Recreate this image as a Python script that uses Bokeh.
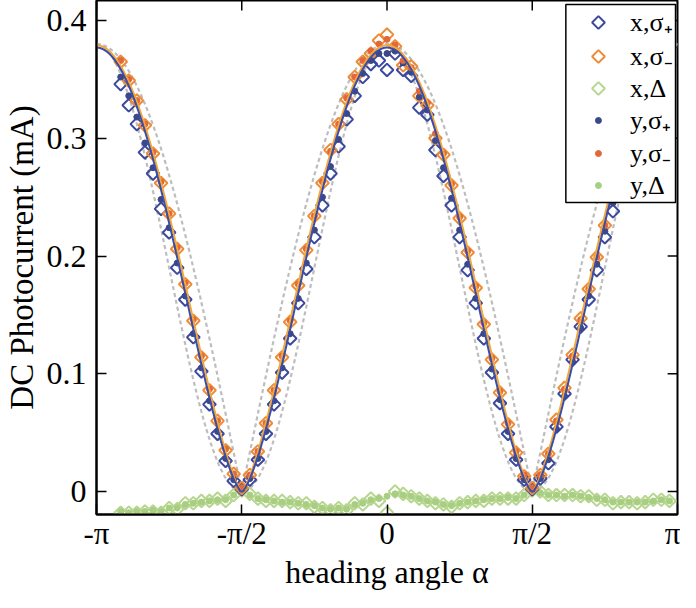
import numpy as np
from bokeh.plotting import figure
from bokeh.models import Range1d, FixedTicker
from bokeh.core.properties import value
from bokeh.embed import file_html
from bokeh.resources import INLINE

# ---------------- data (heading angle in degrees, photocurrent in mA) ----------------
angle_deg = list(range(-165, 180, 5))

x_sigma_plus = [0.346, 0.328, 0.312, 0.288, 0.270, 0.240, 0.220, 0.190, 0.163, 0.131,
                0.102, 0.074, 0.049, 0.026, 0.009, 0.002, 0.010, 0.027, 0.049, 0.074,
                0.101, 0.130, 0.160, 0.189, 0.216, 0.243, 0.270, 0.293, 0.316, 0.336,
                0.352, 0.363, 0.366, 0.358, 0.372, 0.358, 0.353, 0.326, 0.320, 0.290,
                0.268, 0.243, 0.216, 0.188, 0.160, 0.130, 0.101, 0.075, 0.049, 0.027,
                0.010, 0.002, 0.011, 0.024, 0.055, 0.083, 0.112, 0.140, 0.163, 0.188,
                0.216, 0.238, 0.265, 0.290, 0.312, 0.330, 0.345, 0.355, 0.362]

x_sigma_minus = [0.365, 0.349, 0.332, 0.311, 0.287, 0.262, 0.236, 0.206, 0.176, 0.145,
                 0.114, 0.086, 0.060, 0.035, 0.015, 0.003, 0.014, 0.034, 0.058, 0.086,
                 0.114, 0.144, 0.175, 0.205, 0.234, 0.262, 0.290, 0.312, 0.333, 0.352,
                 0.365, 0.372, 0.383, 0.388, 0.378, 0.362, 0.361, 0.336, 0.328, 0.300,
                 0.286, 0.260, 0.232, 0.203, 0.173, 0.142, 0.112, 0.084, 0.057, 0.033,
                 0.013, 0.003, 0.014, 0.032, 0.061, 0.088, 0.116, 0.147, 0.172, 0.199,
                 0.226, 0.254, 0.281, 0.305, 0.327, 0.345, 0.360, 0.370, 0.376]

x_delta = [-0.018, -0.018, -0.018, -0.017, -0.017, -0.018, -0.014, -0.015, -0.010, -0.010,
           -0.008, -0.008, -0.006, -0.008, -0.003, 0.001, -0.002, -0.006, -0.008, -0.008,
           -0.008, -0.009, -0.010, -0.010, -0.013, -0.014, -0.016, -0.014, -0.016, -0.010,
           -0.011, -0.006, -0.008, -0.018, 0.000, -0.002, -0.004, -0.006, -0.008, -0.010,
           -0.011, -0.013, -0.010, -0.009, -0.008, -0.008, -0.006, -0.006, -0.006, -0.006,
           -0.003, 0.001, 0.000, -0.003, -0.003, -0.003, -0.003, -0.004, -0.004, -0.007,
           -0.007, -0.010, -0.009, -0.009, -0.010, -0.009, -0.007, -0.007, -0.008]

y_sigma_plus = [0.352, 0.336, 0.318, 0.296, 0.275, 0.248, 0.224, 0.194, 0.166, 0.134,
                0.105, 0.077, 0.051, 0.028, 0.010, 0.002, 0.011, 0.028, 0.051, 0.077,
                0.105, 0.134, 0.164, 0.194, 0.222, 0.250, 0.276, 0.299, 0.321, 0.340,
                0.355, 0.366, 0.372, 0.372, 0.374, 0.364, 0.356, 0.335, 0.324, 0.298,
                0.275, 0.249, 0.222, 0.193, 0.164, 0.134, 0.104, 0.078, 0.051, 0.028,
                0.010, 0.002, 0.011, 0.027, 0.053, 0.081, 0.110, 0.139, 0.166, 0.193,
                0.221, 0.245, 0.272, 0.296, 0.318, 0.336, 0.350, 0.360, 0.367]

y_sigma_minus = [0.366, 0.350, 0.332, 0.312, 0.288, 0.263, 0.236, 0.207, 0.177, 0.146,
                 0.115, 0.087, 0.060, 0.036, 0.015, 0.003, 0.014, 0.034, 0.058, 0.086,
                 0.115, 0.145, 0.176, 0.206, 0.234, 0.263, 0.289, 0.312, 0.334, 0.352,
                 0.366, 0.374, 0.380, 0.384, 0.379, 0.366, 0.360, 0.340, 0.330, 0.304,
                 0.287, 0.261, 0.233, 0.204, 0.174, 0.143, 0.113, 0.085, 0.058, 0.034,
                 0.014, 0.003, 0.014, 0.032, 0.060, 0.087, 0.115, 0.146, 0.172, 0.199,
                 0.226, 0.254, 0.281, 0.305, 0.326, 0.345, 0.359, 0.369, 0.375]

y_delta = [-0.017, -0.018, -0.017, -0.017, -0.016, -0.017, -0.014, -0.014, -0.011, -0.010,
           -0.009, -0.008, -0.007, -0.007, -0.003, 0.002, -0.003, -0.006, -0.007, -0.008,
           -0.009, -0.009, -0.010, -0.011, -0.012, -0.014, -0.015, -0.014, -0.015, -0.011,
           -0.010, -0.007, -0.006, -0.004, -0.002, -0.003, -0.004, -0.006, -0.008, -0.009,
           -0.011, -0.012, -0.010, -0.009, -0.008, -0.007, -0.006, -0.006, -0.005, -0.006,
           -0.003, 0.002, -0.001, -0.003, -0.003, -0.004, -0.003, -0.004, -0.005, -0.006,
           -0.007, -0.009, -0.009, -0.009, -0.009, -0.009, -0.008, -0.007, -0.008]

# fitted models  I(alpha) = A * |cos(alpha)|^n  (amplitude, exponent)
fit_x_sigma = (0.377, 1.45)
fit_x_sigma_minus = (0.379, 1.38)
bound_linear = (0.380, 1.0)
bound_square = (0.380, 2.0)

x_ticks = [-np.pi, -np.pi / 2, 0.0, np.pi / 2, np.pi]
x_tick_labels = ["-π", "-π/2", "0", "π/2", "π"]
y_ticks = [0.0, 0.1, 0.2, 0.3, 0.4]
y_tick_labels = ["0", "0.1", "0.2", "0.3", "0.4"]

x_title = "heading angle α"
y_title = "DC Photocurrent (mA)"
legend_labels = ["x,σ₊", "x,σ₋", "x,Δ", "y,σ₊", "y,σ₋", "y,Δ"]

# ---------------- figure ----------------
FONT = "Liberation Serif"

# plot-area edges in picture pixels, used for frame-relative decorations (ticks, legend)
FR_LEFT, FR_RIGHT, FR_TOP, FR_BOTTOM = 97, 685, 0, 514

p = figure(width=680, height=592, output_backend="svg", toolbar_location=None,
           x_range=Range1d(-np.pi, np.pi), y_range=Range1d(-0.01953, 0.41699),
           min_border_left=89, min_border_right=3, min_border_top=0, min_border_bottom=78)
p.extra_x_ranges = {"px": Range1d(FR_LEFT, FR_RIGHT)}
p.extra_y_ranges = {"px": Range1d(FR_BOTTOM, FR_TOP)}
p.grid.visible = False
p.background_fill_color = "white"
p.border_fill_color = "white"
p.outline_line_color = "black"
p.outline_line_width = 2
p.outline_line_alpha = 1.0

alpha = np.deg2rad(np.array(angle_deg, dtype=float))
alpha_fit = np.linspace(-np.pi, np.pi, 1441)


def model(params):
    a, n = params
    return a * np.abs(np.cos(alpha_fit)) ** n


gray = "#BDBDBD"
p.line(alpha_fit, model(bound_linear), line_color=gray, line_width=2.2, line_dash="4 3")
p.line(alpha_fit, model(bound_square), line_color=gray, line_width=2.2, line_dash="4 3")

c_xb, c_xo, c_xg = "#3B4A9E", "#EE8B36", "#B7D68F"
c_yb, c_yo, c_yg = "#3A4788", "#E2683B", "#A8CE82"
colors = [c_xb, c_xo, c_xg, c_yb, c_yo, c_yg]
is_diamond = [True, True, True, False, False, False]

DIAMOND = dict(marker="square", angle=np.pi / 4, size=9, fill_color=None, line_width=2)
DOT = dict(marker="circle", size=6)

p.scatter(alpha, x_delta, line_color=c_xg, **DIAMOND)
p.scatter(alpha, y_delta, fill_color=c_yg, line_color=c_yg, **DOT)
p.scatter(alpha, x_sigma_plus, line_color=c_xb, **DIAMOND)
p.scatter(alpha, x_sigma_minus, line_color=c_xo, **DIAMOND)
p.scatter(alpha, y_sigma_plus, fill_color=c_yb, line_color=c_yb, **DOT)
p.scatter(alpha, y_sigma_minus, fill_color=c_yo, line_color=c_yo, **DOT)

p.line(alpha_fit, model(fit_x_sigma_minus), line_color="#F4A83A", line_width=2)
p.line(alpha_fit, model(fit_x_sigma), line_color="#3A4DA8", line_width=2)

# ---------------- axes ----------------
xa = p.xaxis[0]
xa.ticker = FixedTicker(ticks=x_ticks)
xa.major_label_overrides = {t: l for t, l in zip(x_ticks, x_tick_labels)}
ya = p.yaxis[0]
ya.ticker = FixedTicker(ticks=y_ticks)
ya.major_label_overrides = {t: l for t, l in zip(y_ticks, y_tick_labels)}
xa.axis_label = x_title
ya.axis_label = y_title

TICK_LEN = 10
for ax in (xa, ya):
    ax.axis_line_color = "black"
    ax.axis_line_width = 2
    ax.major_tick_in = TICK_LEN
    ax.major_tick_out = 0
    ax.major_tick_line_width = 1.5
    ax.major_tick_line_color = "black"
    ax.minor_tick_line_color = None
    ax.major_label_text_font = FONT
    ax.major_label_text_color = "black"
    ax.axis_label_text_font = FONT
    ax.axis_label_text_font_style = "normal"
    ax.axis_label_text_color = "black"

ya.major_label_text_font_size = "32px"
ya.axis_label_text_font_size = "33px"
ya.major_label_standoff = 10
ya.axis_label_standoff = 4

xa.major_label_text_font_size = "31px"
xa.axis_label_text_font_size = "32px"
xa.major_label_standoff = 1
xa.axis_label_standoff = 0

# mirrored inward ticks on the top and right edges of the box
p.segment(x0=x_ticks, y0=[FR_TOP] * len(x_ticks), x1=x_ticks, y1=[FR_TOP + TICK_LEN] * len(x_ticks),
          y_range_name="px", line_color="black", line_width=1.5)
p.segment(x0=[FR_RIGHT] * len(y_ticks), y0=y_ticks, x1=[FR_RIGHT - TICK_LEN] * len(y_ticks), y1=y_ticks,
          x_range_name="px", line_color="black", line_width=1.5)

# ---------------- legend (box, symbols and labels in picture-pixel coordinates of the frame) ----------------
LEG_LEFT, LEG_RIGHT, LEG_TOP, LEG_BOTTOM = 572, 683, 4, 202
LEG_SYM_X, LEG_TEXT_X = 605, 637
leg_rows_y = [22, 56, 88, 120, 153, 185]

p.quad(left=[LEG_LEFT], right=[LEG_RIGHT], top=[LEG_TOP], bottom=[LEG_BOTTOM],
       x_range_name="px", y_range_name="px",
       fill_color="white", line_color="black", line_width=1.5)
for i, lab in enumerate(legend_labels):
    if is_diamond[i]:
        p.scatter([LEG_SYM_X], [leg_rows_y[i]], line_color=colors[i],
                  x_range_name="px", y_range_name="px", **DIAMOND)
    else:
        p.scatter([LEG_SYM_X], [leg_rows_y[i]], fill_color=colors[i], line_color=colors[i],
                  x_range_name="px", y_range_name="px", **DOT)
p.text(x=[LEG_TEXT_X] * len(legend_labels), y=leg_rows_y, text=legend_labels,
       x_range_name="px", y_range_name="px",
       text_font=value(FONT), text_font_size="26px", text_color="black",
       text_align="left", text_baseline="middle")

open("out.html", "w").write(file_html(p, INLINE))
